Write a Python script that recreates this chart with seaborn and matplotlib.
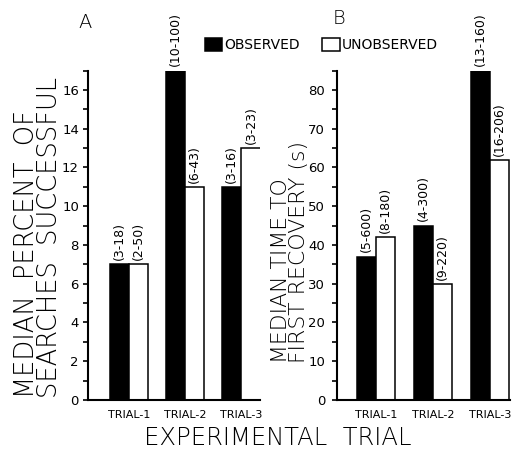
import matplotlib
matplotlib.use('Agg')
import matplotlib.pyplot as plt
import pandas as pd
import seaborn as sns
from matplotlib.ticker import MultipleLocator


TRIALS = ['TRIAL-1', 'TRIAL-2', 'TRIAL-3']
GROUPS = ['OBSERVED', 'UNOBSERVED']

# panel A: median percent of searches successful
pct_observed = [7, 17, 11]
pct_unobserved = [7, 11, 13]
pct_range_observed = ['(3-18)', '(10-100)', '(3-16)']
pct_range_unobserved = ['(2-50)', '(6-43)', '(3-23)']

# panel B: median time to first recovery (s)
time_observed = [37, 45, 85]
time_unobserved = [42, 30, 62]
time_range_observed = ['(5-600)', '(4-300)', '(13-160)']
time_range_unobserved = ['(8-180)', '(9-220)', '(16-206)']


def make_frame(observed, unobserved):
    rows = []
    for trial, o, u in zip(TRIALS, observed, unobserved):
        rows.append({'Trial': trial, 'Group': GROUPS[0], 'Value': o})
        rows.append({'Trial': trial, 'Group': GROUPS[1], 'Value': u})
    return pd.DataFrame(rows)


def draw_panel(ax, df, ranges, ylim, major, minor, tick_pad):
    sns.barplot(data=df, x='Trial', y='Value', hue='Group', order=TRIALS,
                hue_order=GROUPS, palette=['black', 'white'], width=0.68,
                edgecolor='black', linewidth=1.1, saturation=1, ax=ax)

    for container, labels in zip(ax.containers, ranges):
        ax.bar_label(container, labels=labels, rotation=90, padding=3,
                     fontsize=9, clip_on=False)

    ax.set_ylim(*ylim)
    ax.yaxis.set_major_locator(MultipleLocator(major))
    ax.yaxis.set_minor_locator(MultipleLocator(minor))
    ax.tick_params(axis='y', which='both', length=3.5, width=1.2,
                   labelsize=9.5, pad=tick_pad)
    ax.tick_params(axis='x', length=0, labelsize=8, pad=7)
    ax.set_xlabel('')
    ax.set_ylabel('')
    for side in ['top', 'right']:
        ax.spines[side].set_visible(False)
    for side in ['left', 'bottom']:
        ax.spines[side].set_linewidth(1.5)
        ax.spines[side].set_color('black')


def main():
    sns.set_style('ticks')
    plt.rcParams['font.family'] = ['DejaVu Sans']
    plt.rcParams['text.color'] = 'black'
    plt.rcParams['xtick.color'] = 'black'
    plt.rcParams['ytick.color'] = 'black'
    plt.rcParams['axes.edgecolor'] = 'black'

    fig = plt.figure(figsize=(5.21, 4.54), dpi=100)
    ax_a = fig.add_axes([88 / 521, 54 / 454, 172 / 521, 329.4 / 454])
    ax_b = fig.add_axes([337 / 521, 54 / 454, 173 / 521, 329.4 / 454])

    df_a = make_frame(pct_observed, pct_unobserved)
    df_b = make_frame(time_observed, time_unobserved)

    draw_panel(ax_a, df_a, [pct_range_observed, pct_range_unobserved],
               (0, 17), 2, 1, 3)
    draw_panel(ax_b, df_b, [time_range_observed, time_range_unobserved],
               (0, 85), 10, 5, 5)
    ax_a.set_xlim(-0.726, 2.33)
    ax_b.set_xlim(-0.684, 2.35)

    handles, labels = ax_a.get_legend_handles_labels()
    ax_a.get_legend().remove()
    ax_b.get_legend().remove()
    fig.legend(handles, labels, loc='center left',
               bbox_to_anchor=(205 / 521, 1 - 45 / 454), ncol=2,
               frameon=False, fontsize=10, borderpad=0, borderaxespad=0,
               handletextpad=0.15, columnspacing=1.6, handlelength=1.25,
               handleheight=1.1)

    # panel letters and axis titles
    fig.text(78 / 521, 1 - 22 / 454, 'A', fontsize=14, ha='left', va='center',
             fontweight='light')
    fig.text(333 / 521, 1 - 19 / 454, 'B', fontsize=14, ha='left', va='center',
             fontweight='light')

    fig.text(38 / 521, 1 - 398 / 454,
             'MEDIAN  PERCENT  OF\nSEARCHES  SUCCESSFUL',
             rotation=90, ha='center', va='bottom', multialignment='left',
             fontsize=18.5, linespacing=0.9, fontweight='light')
    fig.text(290 / 521, 1 - 363 / 454,
             'MEDIAN TIME TO\nFIRST RECOVERY (s)',
             rotation=90, ha='center', va='bottom', multialignment='left',
             fontsize=15.8, linespacing=0.88, fontweight='light')
    fig.text(278 / 521, 1 - 438 / 454, 'EXPERIMENTAL  TRIAL',
             fontsize=17.5, ha='center', va='center', fontweight='light')

    fig.savefig('out.png', dpi=100)
    plt.close(fig)


if __name__ == '__main__':
    main()
